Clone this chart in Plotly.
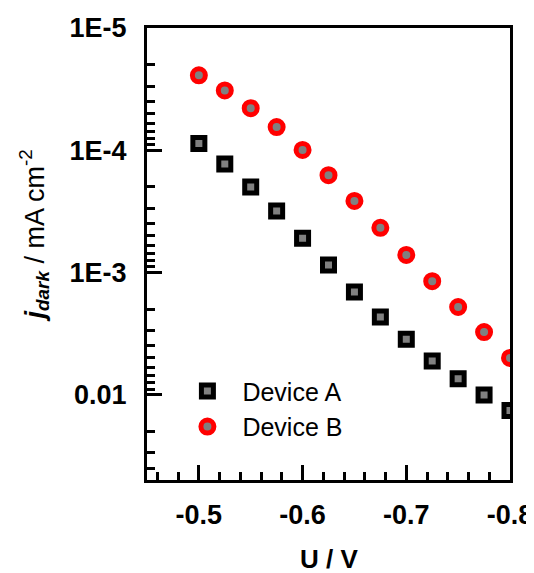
import math
import plotly.graph_objects as go

# Data
voltage = [-0.5, -0.525, -0.55, -0.575, -0.6, -0.625, -0.65, -0.675, -0.7, -0.725, -0.75, -0.775, -0.8]
device_a = [8.8e-5, 1.30e-4, 2.00e-4, 3.15e-4, 5.26e-4, 8.7e-4, 1.45e-3, 2.32e-3, 3.53e-3, 5.3e-3, 7.43e-3, 1.01e-2, 1.35e-2]
device_b = [2.44e-5, 3.24e-5, 4.53e-5, 6.47e-5, 9.95e-5, 1.60e-4, 2.60e-4, 4.32e-4, 7.19e-4, 1.18e-3, 1.92e-3, 3.08e-3, 5.01e-3]

y_tickvals = [1e-5, 1e-4, 1e-3, 1e-2]
y_ticktext = ["1E-5", "1E-4", "1E-3", "0.01"]
x_tickvals = [-0.5, -0.6, -0.7, -0.8]
x_ticktext = ["-0.5", "-0.6", "-0.7", "-0.8"]

y_minor = [k * 10 ** n for n in range(-5, -1) for k in range(2, 10) if k * 10 ** n <= 0.05]

FONT = "Liberation Sans, Arial, sans-serif"

fig = go.Figure()
fig.add_trace(go.Scatter(
    x=voltage, y=device_a, mode="markers", name="Device A",
    marker=dict(symbol="square", size=12, color="#808080",
                line=dict(color="black", width=5)),
))
fig.add_trace(go.Scatter(
    x=voltage, y=device_b, mode="markers", name="Device B",
    marker=dict(symbol="circle", size=13, color="#808080",
                line=dict(color="#ff0000", width=5)),
))

# page body has an 8px default margin, so the figure is 8px smaller
fig.update_layout(
    width=526, height=565,
    margin=dict(l=139, r=24, t=20, b=93),
    paper_bgcolor="white", plot_bgcolor="white",
    font=dict(family=FONT, color="black"),
    showlegend=True,
    legend=dict(x=0.07, y=0.247, xanchor="left", yanchor="top",
                font=dict(size=25, family=FONT), itemwidth=60,
                bgcolor="rgba(0,0,0,0)", tracegroupgap=0),
    xaxis=dict(
        range=[-0.45, -0.8], showgrid=False, zeroline=False, automargin=False,
        showline=True, linecolor="black", linewidth=3, mirror=True,
        ticks="inside", ticklen=15, tickwidth=3, tickcolor="black",
        tickmode="array", tickvals=x_tickvals, ticktext=x_ticktext,
        tickfont=dict(size=27, family=FONT, weight="bold"),
        ticklabelstandoff=9,
        minor=dict(ticks="inside", ticklen=8, tickwidth=3, tickcolor="black",
                   dtick=0.02, tick0=-0.8, showgrid=False),
    ),
    yaxis=dict(
        type="log", range=[math.log10(0.05), -5], showgrid=False, zeroline=False,
        automargin=False,
        showline=True, linecolor="black", linewidth=3, mirror=True,
        ticks="inside", ticklen=15, tickwidth=3, tickcolor="black",
        tickmode="array", tickvals=y_tickvals, ticktext=y_ticktext,
        tickfont=dict(size=27, family=FONT, weight="bold"),
        ticklabelstandoff=12,
        minor=dict(ticks="inside", ticklen=8, tickwidth=3, tickcolor="black",
                   tickmode="array", tickvals=y_minor, showgrid=False),
    ),
)

# axis titles
fig.add_annotation(
    xref="paper", yref="paper", x=0.5, y=-0.174, xanchor="center", yanchor="middle",
    showarrow=False, text="<b>U / V</b>",
    font=dict(size=26, family=FONT, color="black"),
)
fig.add_annotation(
    xref="paper", yref="paper", x=-0.31, y=0.542, xanchor="center", yanchor="middle",
    textangle=-90, showarrow=False,
    text="<b><i>j</i></b><sub><b><i>dark</i></b></sub> / mA cm<sup>-2</sup>",
    font=dict(size=27, family=FONT, color="black"),
)

fig.write_html("out.html")
